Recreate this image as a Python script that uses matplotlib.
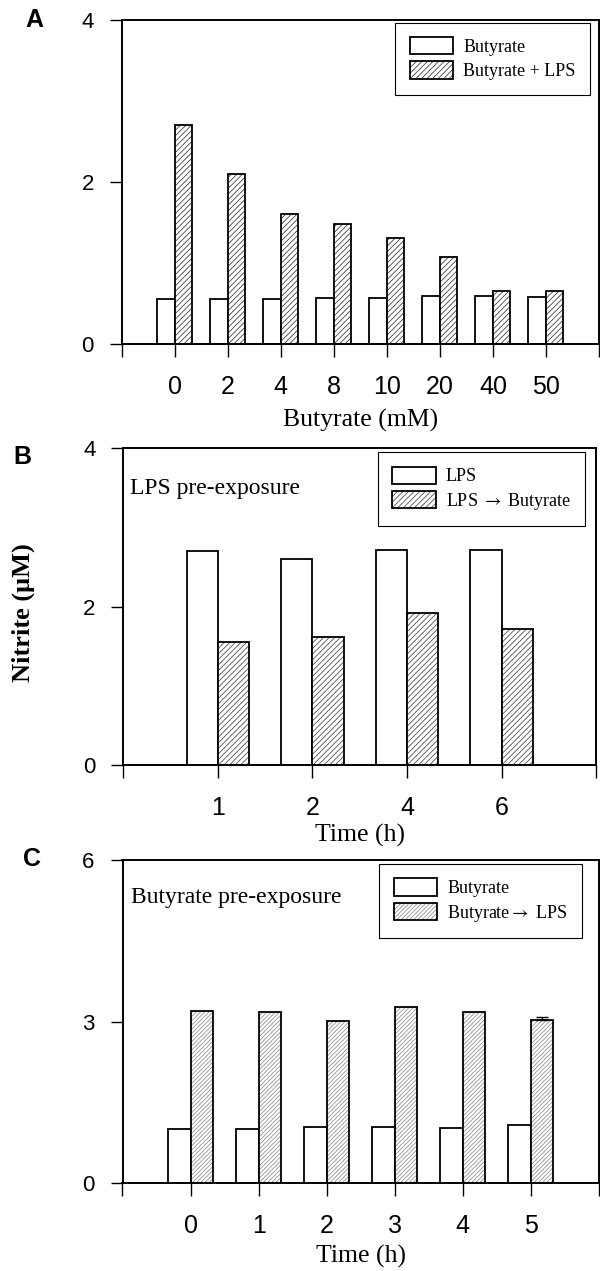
import matplotlib
matplotlib.use('Agg')
import matplotlib.pyplot as plt
import numpy as np
from matplotlib.patches import Patch
from matplotlib.font_manager import FontProperties

# ---------------- data ----------------
a_categories = ['0', '2', '4', '8', '10', '20', '40', '50']
a_butyrate = [0.56, 0.56, 0.55, 0.57, 0.57, 0.59, 0.59, 0.58]
a_butyrate_lps = [2.70, 2.10, 1.60, 1.48, 1.31, 1.08, 0.66, 0.65]

b_categories = ['1', '2', '4', '6']
b_lps = [2.70, 2.60, 2.71, 2.71]
b_lps_butyrate = [1.55, 1.61, 1.92, 1.72]

c_categories = ['0', '1', '2', '3', '4', '5']
c_butyrate = [1.00, 1.00, 1.04, 1.04, 1.02, 1.08]
c_butyrate_lps = [3.20, 3.18, 3.01, 3.27, 3.17, 3.03]
c_butyrate_lps_err = [0, 0, 0, 0, 0, 0.05]

# ---------------- style ----------------
SERIF = 'Liberation Serif'
SANS = 'Liberation Sans'
plt.rcParams['hatch.linewidth'] = 0.55
plt.rcParams['font.family'] = [SERIF, 'DejaVu Serif']
plt.rcParams['mathtext.fontset'] = 'stix'

W, H = 600, 1271
fig = plt.figure(figsize=(W / 100, H / 100), dpi=100)


def rect(left, right, top, bottom):
    return [left / W, 1 - bottom / H, (right - left) / W, (bottom - top) / H]


def panel(ax, cats, v1, v2, ymax, yticks, hcolor, hatch, xlabel, labels,
          anchor, err=None, note=None, note_pos=None, labelpad=3):
    x = np.arange(len(cats))
    w = 0.33
    ax.bar(x - w / 2, v1, w, facecolor='white', edgecolor='black',
           linewidth=1.3, zorder=2)
    ax.bar(x + w / 2, v2, w, facecolor='white', edgecolor=hcolor,
           hatch=hatch, linewidth=0, zorder=2)
    ax.bar(x + w / 2, v2, w, facecolor='none', edgecolor='black',
           linewidth=1.3, zorder=3)
    if err is not None:
        e = np.asarray(err)
        m = e > 0
        ax.errorbar((x + w / 2)[m], np.asarray(v2)[m], yerr=[np.zeros(m.sum()), e[m]],
                    fmt='none', ecolor='black', elinewidth=1.0, capsize=4,
                    capthick=1.0, zorder=4)
    ax.set_xlim(-1, len(cats))
    ax.set_ylim(0, ymax)
    ax.set_yticks(yticks)
    ax.set_xticks(x)
    ax.set_xticklabels(cats)
    ax.set_xticks([-1, len(cats)], minor=True)
    ax.tick_params(axis='x', which='both', direction='out', length=9.4,
                   width=1.0, pad=13, labelsize=18, labelfontfamily=SANS)
    ax.tick_params(axis='y', direction='out', length=9, width=1.0, pad=11,
                   labelsize=16, labelfontfamily=SANS)
    for s in ax.spines.values():
        s.set_linewidth(1.4)
    ax.set_xlabel(xlabel, fontsize=18.5, family=SERIF, labelpad=labelpad)
    h_white = Patch(facecolor='white', edgecolor='black', linewidth=1.3)
    h_hatch = (Patch(facecolor='white', edgecolor=hcolor, hatch=hatch, linewidth=0),
               Patch(facecolor='none', edgecolor='black', linewidth=1.3))
    leg = ax.legend([h_white, h_hatch], labels, loc='upper right',
                    bbox_to_anchor=anchor, borderaxespad=0, frameon=True,
                    fancybox=False, edgecolor='black', framealpha=1,
                    prop=FontProperties(family=SERIF, size=13),
                    handlelength=2.4, handleheight=1.1, handletextpad=0.55,
                    labelspacing=0.3, borderpad=0.8)
    leg.get_frame().set_linewidth(0.8)
    if note:
        ax.text(note_pos[0], note_pos[1], note, transform=ax.transAxes,
                ha='left', va='center', fontsize=17, family=SERIF)


axA = fig.add_axes(rect(121.7, 599, 20, 344))
panel(axA, a_categories, a_butyrate, a_butyrate_lps, 4, [0, 2, 4], '#333333',
      '//////', 'Butyrate (mM)', ['Butyrate', 'Butyrate + LPS'],
      (0.981, 0.992), labelpad=7)

axB = fig.add_axes(rect(123.2, 596.3, 448, 765))
panel(axB, b_categories, b_lps, b_lps_butyrate, 4, [0, 2, 4], '#444444',
      '//////', 'Time (h)', ['LPS', r'LPS $\rightarrow$ Butyrate'],
      (0.977, 0.987), note='LPS pre-exposure', note_pos=(0.0146, 0.871),
      labelpad=3)

axC = fig.add_axes(rect(122.5, 599, 860, 1183))
panel(axC, c_categories, c_butyrate, c_butyrate_lps, 6, [0, 3, 6], '#8a8a8a',
      '////////', 'Time (h)', ['Butyrate', r'Butyrate$\rightarrow$ LPS'],
      (0.964, 0.988), err=c_butyrate_lps_err, note='Butyrate pre-exposure',
      note_pos=(0.018, 0.885), labelpad=5)

# panel letters and shared y label
for letter, (px, py) in zip(['A', 'B', 'C'], [(34.5, 20), (22.5, 456.5), (31.5, 859.5)]):
    fig.text(px / W, 1 - py / H, letter, ha='center', va='center',
             fontsize=18, fontweight='bold', family=SANS)
fig.text(23.5 / W, 1 - 613 / H, 'Nitrite (\u03bcM)', rotation=90, ha='center',
         va='center', fontsize=19, fontweight='bold', family=SERIF)

fig.savefig('out.png', dpi=100)
